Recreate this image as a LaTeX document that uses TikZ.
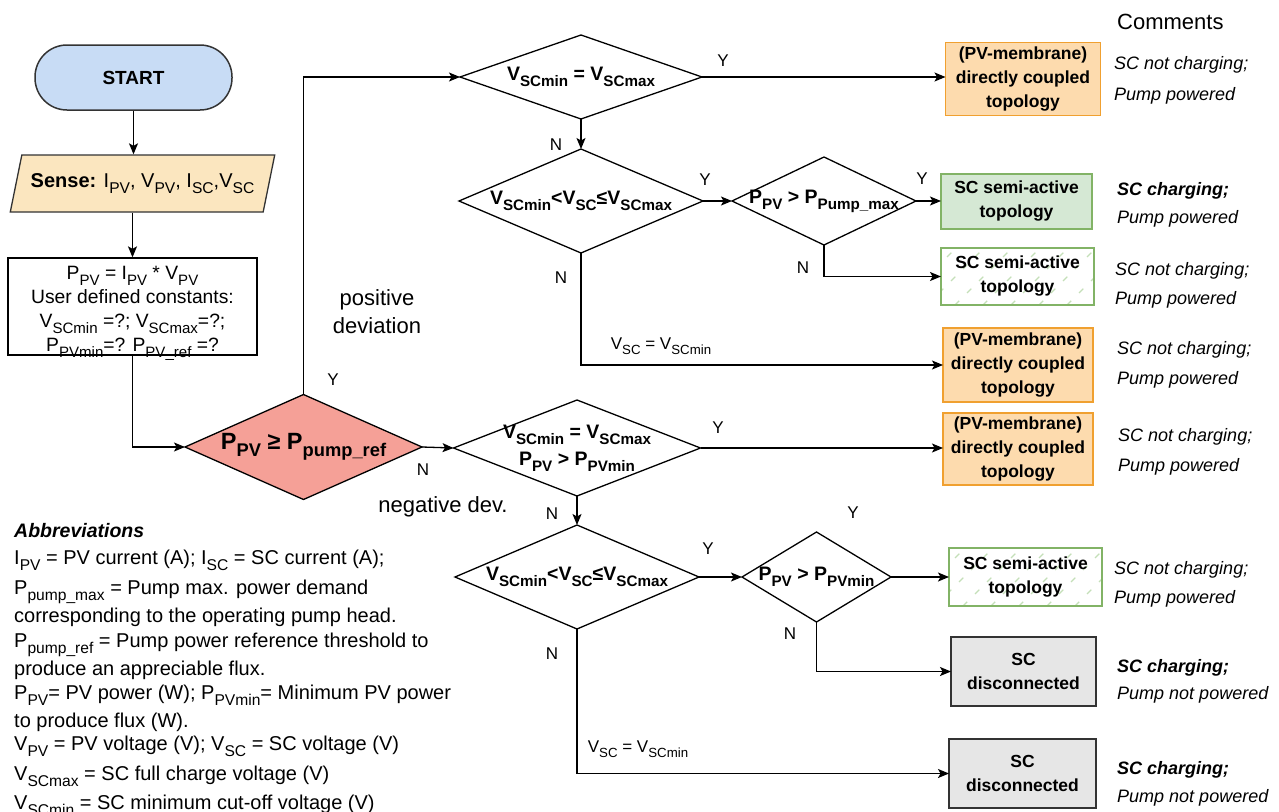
\documentclass[tikz,border=0pt]{standalone}
\usepackage{fontspec}
\setmainfont{Liberation Sans}
\usetikzlibrary{shapes.geometric,arrows.meta,calc}
\definecolor{startfill}{HTML}{C8DCF5}
\definecolor{sensefill}{HTML}{FBE6BF}
\definecolor{mainfill}{HTML}{F5A097}
\definecolor{orgfill}{HTML}{FDDBAE}
\definecolor{orgdraw}{HTML}{F0A030}
\definecolor{grnfill}{HTML}{D5E8D4}
\definecolor{grndraw}{HTML}{82B366}
\definecolor{hatchc}{HTML}{C4DFB8}
\definecolor{grayfill}{HTML}{E6E6E6}
\definecolor{graydraw}{HTML}{333333}
\makeatletter
\newlength\subsz
\newcommand{\ssub}[1]{\setlength\subsz{\f@size pt}\subsz=0.78\subsz\raisebox{-0.3em}{\fontsize{\subsz}{\subsz}\selectfont #1}}
\makeatother
\newcommand{\fs}[2]{\fontsize{#1}{#2}\selectfont}
\tikzset{
  line/.style={line width=1.3pt, draw=black},
  arr/.style={line, -{Stealth[length=11pt,width=9pt,inset=2.5pt]}},
  dia/.style={diamond, draw=black, line width=1.3pt, inner sep=0pt, outer sep=0pt},
  dtext/.style={font=\fs{19.5}{27}\bfseries, align=center, inner sep=0pt},
  box/.style={rectangle, line width=1.6pt, align=center, font=\fs{17.5}{24}\bfseries, inner sep=0pt, outer sep=0pt},
  obox/.style={box, draw=orgdraw, fill=orgfill},
  gbox/.style={box, draw=grndraw, fill=grnfill},
  hatchln/.style={draw=hatchc, line width=1.2pt, dash pattern=on 6pt off 11pt},
  hbox/.style={box, draw=grndraw, line width=2.2pt, fill=white,
    path picture={\foreach \i in {-70,-42,...,180} \draw[hatchln] ([xshift=\i pt]path picture bounding box.south west) -- ++(80,-80);}},
  xbox/.style={box, draw=graydraw, fill=grayfill, line width=1.5pt},
  yn/.style={font=\fs{17}{20}, inner sep=0pt},
  cmt/.style={font=\fs{18}{22}\itshape, anchor=base west, inner sep=0pt},
  cmtb/.style={font=\fs{18}{22}\bfseries\itshape, anchor=base west, inner sep=0pt},
  ab/.style={font=\fs{20}{22}, anchor=base west, inner sep=0pt},
}
\begin{document}
\begin{tikzpicture}[x=1pt,y=-1pt]
\fill[white] (0,0) rectangle (1279,811);
\useasboundingbox (0,0) rectangle (1279,811);

% left column
\node[rectangle, rounded corners=32pt, draw=graydraw, fill=startfill, line width=1.5pt,
  minimum width=197pt, minimum height=65pt, font=\fs{19}{22}\bfseries] (start) at (133.5,77.5) {START};
\node[trapezium, trapezium left angle=62, trapezium right angle=118, trapezium stretches=true,
  draw=graydraw, fill=sensefill, line width=1.3pt, minimum width=265pt, minimum height=57pt,
  inner sep=0pt, font=\fs{20}{24}] (sense) at (142.5,183.5)
  {\textbf{Sense:} I\ssub{PV}, V\ssub{PV}, I\ssub{SC},V\ssub{SC}};
\node[rectangle, draw=black, line width=1.3pt, minimum width=249pt, minimum height=97pt,
  inner sep=0pt] (calc) at (132.5,306.5) {};
\node[align=center, inner sep=0pt, font=\fs{19.3}{24}] (calct) at ($(calc.center)+(0,7)$)
  {P\ssub{PV} = I\ssub{PV} * V\ssub{PV}\\User defined constants:\\V\ssub{SCmin} =?; V\ssub{SCmax}=?;\\P\ssub{PVmin}=? P\ssub{PV\_ref} =?};

% main diamond
\node[dia, fill=mainfill, minimum width=237pt, minimum height=105pt] (d0) at (303.5,447) {};
\node[dtext, font=\fs{23.5}{26}\bfseries] (d0t) at (d0.center) {P\ssub{PV} ≥ P\ssub{pump\_ref}};

% upper branch
\node[dia, minimum width=242pt, minimum height=84pt] (d1) at (581,77) {};
\node[dtext] (d1t) at (d1.center) {V\ssub{SCmin} = V\ssub{SCmax}};
\node[dia, minimum width=244pt, minimum height=104pt] (d2) at (581,201) {};
\node[dtext] (d2t) at (d2.center) {V\ssub{SCmin}<V\ssub{SC}≤V\ssub{SCmax}};
\node[dia, minimum width=184pt, minimum height=88pt] (d3) at (824,201) {};
\node[dtext] (d3t) at (d3.center) {P\ssub{PV} > P\ssub{Pump\_max}};

% lower branch
\node[dia, minimum width=247pt, minimum height=96pt] (d4) at (577,448) {};
\node[dtext] (d4t) at (d4.center) {V\ssub{SCmin} = V\ssub{SCmax}\\P\ssub{PV} > P\ssub{PVmin}};
\node[dia, minimum width=244pt, minimum height=104pt] (d5) at (577,577) {};
\node[dtext] (d5t) at (d5.center) {V\ssub{SCmin}<V\ssub{SC}≤V\ssub{SCmax}};
\node[dia, minimum width=149pt, minimum height=90pt] (d6) at (816.5,577) {};
\node[dtext] (d6t) at (d6.center) {P\ssub{PV} > P\ssub{PVmin}};

% result boxes
\node[obox, minimum width=155pt, minimum height=73pt] (o1) at (1023,79) {(PV-membrane)\\directly coupled\\topology};
\node[gbox, minimum width=151pt, minimum height=55pt] (g1) at (1016.5,201.3) {SC semi-active\\topology};
\node[hbox, minimum width=153pt, minimum height=57pt] (h1) at (1017.5,276.5) {SC semi-active\\topology};
\node[obox, minimum width=150pt, minimum height=74pt] (o2) at (1018,365) {(PV-membrane)\\directly coupled\\topology};
\node[obox, minimum width=150pt, minimum height=72pt] (o3) at (1018,449) {(PV-membrane)\\directly coupled\\topology};
\node[hbox, minimum width=153pt, minimum height=58pt] (h2) at (1025.5,577) {SC semi-active\\topology};
\node[xbox, minimum width=145pt, minimum height=69pt] (x1) at (1023.5,671.5) {SC\\disconnected};
\node[xbox, minimum width=147pt, minimum height=69pt] (x2) at (1022.5,773.5) {SC\\disconnected};

% connectors
\draw[arr] (start.south) -- (start.south |- sense.north);
\draw[arr] (calc.north |- sense.south) -- (calc.north);
\draw[arr] (calc.south) |- (d0.west);
\draw[arr] (d0.north) |- (d1.west);
\draw[arr] (d1.east) -- (d1.east -| o1.west);
\draw[arr] (d1.south) -- (d2.north);
\draw[arr] (d2.east) -- (d3.west);
\draw[arr] (d3.east) -- (d3.east -| g1.west);
\draw[arr] (d3.south) |- (h1.west);
\draw[arr] (d2.south) |- (o2.west);
\draw[arr] (d0.east) -- (d4.west);
\draw[arr] (d4.east) -- (d4.east -| o3.west);
\draw[arr] (d4.south) -- (d5.north);
\draw[arr] (d5.east) -- (d6.west);
\draw[arr] (d6.east) -- (h2.west);
\draw[arr] (d6.south) |- (x1.west);
\draw[arr] (d5.south) |- (x2.west);

% branch labels
\node[yn] (l1) at (333,380) {Y};
\node[yn] (l2) at (423,470) {N};
\node[font=\fs{22}{28}, align=center, inner sep=0pt] (pos) at (377,312) {positive\\deviation};
\node[font=\fs{22}{26}, inner sep=0pt] (neg) at (443,507) {negative dev.};
\node[yn] (l3) at (723,61) {Y};
\node[yn] (l4) at (556,145) {N};
\node[yn] (l5) at (705,180) {Y};
\node[yn] (l6) at (561,278) {N};
\node[yn] (l7) at (922,179) {Y};
\node[yn] (l8) at (803,268) {N};
\node[yn, font=\fs{17}{20}] (v1) at (661,346) {V\ssub{SC} = V\ssub{SCmin}};
\node[yn] (l9) at (718,428) {Y};
\node[yn] (l10) at (552,514) {N};
\node[yn] (l11) at (708,549) {Y};
\node[yn] (l12) at (853,513) {Y};
\node[yn] (l13) at (790,634) {N};
\node[yn] (l14) at (552,654) {N};
\node[yn, font=\fs{17}{20}] (v2) at (638,749) {V\ssub{SC} = V\ssub{SCmin}};

% comments
\node[font=\fs{22}{26}, anchor=base west, inner sep=0pt] (cm) at (1117,29) {Comments};
\node[cmt] (c1a) at (1114,69) {SC not charging;};
\node[cmt] (c1b) at (1114,100) {Pump powered};
\node[cmtb] (c2a) at (1117,195) {SC charging;};
\node[cmt] (c2b) at (1117,223) {Pump powered};
\node[cmt] (c3a) at (1115,275) {SC not charging;};
\node[cmt] (c3b) at (1115,304) {Pump powered};
\node[cmt] (c4a) at (1117,354) {SC not charging;};
\node[cmt] (c4b) at (1117,384) {Pump powered};
\node[cmt] (c5a) at (1118,441) {SC not charging;};
\node[cmt] (c5b) at (1118,471) {Pump powered};
\node[cmt] (c6a) at (1114,574) {SC not charging;};
\node[cmt] (c6b) at (1114,603) {Pump powered};
\node[cmtb] (c7a) at (1117,672) {SC charging;};
\node[cmt] (c7b) at (1117,699) {Pump not powered};
\node[cmtb] (c8a) at (1117,774) {SC charging;};
\node[cmt] (c8b) at (1117,802) {Pump not powered};

% abbreviations
\node[ab, font=\fs{19.5}{22}\bfseries\itshape] (ab1) at (14,537) {Abbreviations};
\node[ab] (ab2) at (14,564) {I\ssub{PV} = PV current (A); I\ssub{SC} = SC current (A);};
\node[ab] (ab3) at (14,594) {P\ssub{pump\_max} = Pump max. power demand};
\node[ab] (ab4) at (14,622) {corresponding to the operating pump head.};
\node[ab] (ab5) at (14,647) {P\ssub{pump\_ref} = Pump power reference threshold to};
\node[ab] (ab6) at (14,675) {produce an appreciable flux.};
\node[ab] (ab7) at (14,699) {P\ssub{PV}= PV power (W); P\ssub{PVmin}= Minimum PV power};
\node[ab] (ab8) at (14,727) {to produce flux (W).};
\node[ab] (ab9) at (14,750) {V\ssub{PV} = PV voltage (V); V\ssub{SC} = SC voltage (V)};
\node[ab] (ab10) at (14,780) {V\ssub{SCmax} = SC full charge voltage (V)};
\node[ab] (ab11) at (14,809) {V\ssub{SCmin} = SC minimum cut-off voltage (V)};
\end{tikzpicture}
\end{document}
